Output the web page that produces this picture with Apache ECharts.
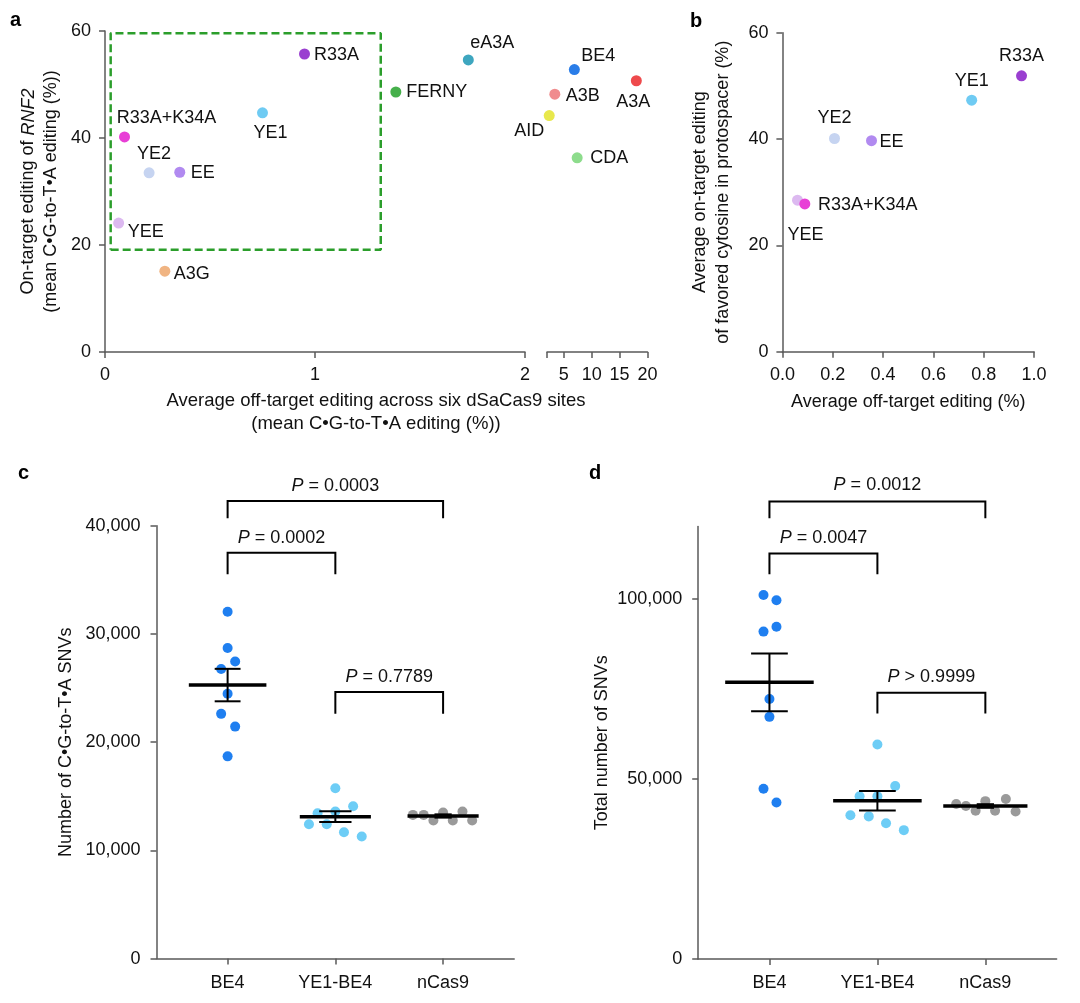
<!DOCTYPE html>
<html><head><meta charset="utf-8">
<script src="https://cdn.jsdelivr.net/npm/echarts@6/dist/echarts.min.js"></script>
<style>html,body{margin:0;padding:0;background:#fff}#c{width:1080px;height:1003px}</style>
</head><body><div id="c"></div>
<script>
// ---------- Panel a data ----------
const namesA = ['R33A','eA3A','FERNY','YE1','R33A+K34A','YE2','EE','YEE','A3G','BE4','A3B','A3A','AID','CDA'];
const offTargetA = [0.95,1.73,1.385,0.75,0.093,0.21,0.356,0.065,0.285,6.9,3.4,18.0,2.4,7.4];
const onTargetA = [55.7,54.6,48.6,44.7,40.2,33.5,33.6,24.1,15.1,52.8,48.2,50.7,44.2,36.3];
const colorsA = ['#9a3fd0','#3ea6bf','#46b04b','#6fcbf3','#e83fd6','#c6d4f1','#b18af0','#dcb9f0','#f0b482','#2a7de8','#f08c8e','#ee4a4c','#e8e84c','#8ddc8c'];
const boxX = [0.027, 1.313];
const boxY = [19.1, 59.6];
const xTicksA1 = [0, 1, 2];
const xTicksA2 = [5, 10, 15, 20];
// ---------- Panel b data ----------
const namesB = ['R33A','YE1','YE2','EE','YEE','R33A+K34A'];
const offTargetB = [0.95,0.752,0.207,0.354,0.06,0.089];
const onTargetB = [51.9,47.3,40.1,39.7,28.5,27.8];
const colorsB = ['#9a3fd0','#6fcbf3','#c6d4f1','#b18af0','#dcb9f0','#e83fd6'];
// ---------- Panel c / d data ----------
const groups = ['BE4','YE1-BE4','nCas9'];
const cBE4 = [32060,28700,27460,26760,24480,22620,21440,18690];
const cBE4x = [1.0,1.0,1.07,0.94,1.0,0.94,1.07,1.0];
const cYE1 = [15740,14080,13440,13600,12410,12410,11680,11290];
const cYE1x = [2.0,2.165,1.835,2.0,1.755,1.92,2.08,2.245];
const cCas = [13280,13280,12760,13500,12760,13600,12760];
const cCasx = [2.72,2.82,2.91,3.0,3.09,3.18,3.27];
const meanC = [25280,13120,13180];
const semC = [1500,500,150];
const dBE4 = [101000,99560,90840,92170,72160,67180,47230,43410];
const dBE4x = [0.945,1.065,0.945,1.065,1.0,1.0,0.945,1.065];
const dYE1 = [59520,48010,45130,45130,39870,39570,37660,35750];
const dYE1x = [2.0,2.165,1.835,2.0,1.75,1.92,2.08,2.245];
const dCas = [43030,42450,41120,43800,41120,44380,40920];
const dCasx = [2.73,2.82,2.91,3.0,3.09,3.19,3.28];
const meanD = [76760,43890,42450];
const semD = [8000,2700,500];
// brackets: from, to, top, foot, label y
const brFrom = [1,1,2];
const brTo = [3,2,3];
const brTopC = [42300,37500,24640];
const brFootC = [40700,35520,22620];
const brLabelC = [43680,38880,25980];
const pTextC = ['= 0.0003','= 0.0002','= 0.7789'];
const brTopD = [126950,112480,73880];
const brFootD = [122270,106750,68120];
const brLabelD = [131380,116800,78190];
const pTextD = ['= 0.0012','= 0.0047','> 0.9999'];

// ---------- styles ----------
const FONT = "'Liberation Sans', Arial, Helvetica, sans-serif";
const TXT = '#111';
const AX = '#5a5a5a';
const labelOffA = {'R33A':[32,1],'eA3A':[24,-17],'FERNY':[41,0],'YE1':[8,20],'R33A+K34A':[42,-19],'YE2':[5,-19],'EE':[23,1],'YEE':[27,9],'A3G':[27,3],'BE4':[24,-13],'A3B':[28,2],'A3A':[-3,21],'AID':[-20,16],'CDA':[32,0]};
const labelOffB = {'R33A':[0,-20],'YE1':[0,-19],'YE2':[0,-20],'EE':[20,1],'YEE':[8,35],'R33A+K34A':[63,1]};

function axisBase(extra){
  return Object.assign({
    axisLine:{show:true,lineStyle:{color:AX,width:1.5}},
    axisTick:{show:true,length:6,lineStyle:{color:AX,width:1.5}},
    axisLabel:{color:TXT,fontSize:18,fontFamily:FONT,margin:14},
    splitLine:{show:false},
    nameTextStyle:{color:TXT,fontSize:18,fontFamily:FONT}
  }, extra);
}

function ptItems(names, xs, ys, colors, offs, filter){
  const out = [];
  names.forEach((n,i)=>{
    if(filter && !filter(xs[i])) return;
    out.push({name:n, value:[xs[i],ys[i]], itemStyle:{color:colors[i],opacity:1},
      label:{show:true,position:'inside',offset:offs[n],formatter:n,color:TXT,fontSize:18,fontFamily:FONT}});
  });
  return out;
}

function dots(xs, ys){ return xs.map((x,i)=>[x,ys[i]]); }

function meanSem(halfW, capW){
  return function(params, api){
    const i = params.dataIndex;
    const x = api.value(0), m = api.value(1), s = api.value(2);
    const L = (a,b,w)=>({type:'line',shape:{x1:a[0],y1:a[1],x2:b[0],y2:b[1]},style:{stroke:'#000',lineWidth:w}});
    return {type:'group',children:[
      L(api.coord([x,m-s]),api.coord([x,m+s]),2),
      L(api.coord([x-capW[i],m+s]),api.coord([x+capW[i],m+s]),2),
      L(api.coord([x-capW[i],m-s]),api.coord([x+capW[i],m-s]),2),
      L(api.coord([x-halfW[i],m]),api.coord([x+halfW[i],m]),3.5)
    ]};
  };
}

function bracket(texts){
  return function(params, api){
    const i = params.dataIndex;
    const f=api.value(0), t=api.value(1), top=api.value(2), foot=api.value(3), ly=api.value(4);
    const pts=[api.coord([f,foot]),api.coord([f,top]),api.coord([t,top]),api.coord([t,foot])];
    const l=api.coord([(f+t)/2,ly]);
    return {type:'group',children:[
      {type:'polyline',shape:{points:pts},style:{stroke:'#000',lineWidth:2,fill:null}},
      {type:'text',x:l[0],y:l[1],style:{text:'{i|P} '+texts[i],fill:TXT,fontSize:18,fontFamily:FONT,align:'center',verticalAlign:'middle',
        rich:{i:{fontStyle:'italic',fontSize:18,fontFamily:FONT,fill:TXT}}}}
    ]};
  };
}

const fmtComma = v => Number(v).toLocaleString('en-US');
const dotStyle = c => ({color:c,opacity:1});

const option = {
  animation:false,
  backgroundColor:'#fff',
  grid:[
    {left:105, top:31, width:420, height:321},
    {left:547, top:31, width:100.5, height:321},
    {left:782.4, top:32.7, width:251.7, height:319},
    {left:156.5, top:525.8, width:357.7, height:432.8},
    {left:698.2, top:526.5, width:358.4, height:432.5}
  ],
  xAxis:[
    axisBase({gridIndex:0,type:'value',min:0,max:2,interval:1}),
    axisBase({gridIndex:1,type:'value',min:2,max:20,
      axisTick:{show:true,length:6,lineStyle:{color:AX,width:1.5},customValues:[2].concat(xTicksA2)},
      axisLabel:{color:TXT,fontSize:18,fontFamily:FONT,margin:14,customValues:xTicksA2}}),
    axisBase({gridIndex:2,type:'value',min:0,max:1,interval:0.2,name:'Average off-target editing (%)',nameLocation:'middle',nameGap:41,
      axisLabel:{color:TXT,fontSize:18,fontFamily:FONT,margin:14,formatter:v=>v.toFixed(1)}}),
    axisBase({gridIndex:3,type:'value',min:0.34,max:3.66,
      axisTick:{show:true,length:6,lineStyle:{color:AX,width:1.5},customValues:[1,2,3]},
      axisLabel:{color:TXT,fontSize:18,fontFamily:FONT,margin:15,customValues:[1,2,3],formatter:v=>groups[Math.round(v)-1]}}),
    axisBase({gridIndex:4,type:'value',min:0.34,max:3.66,
      axisTick:{show:true,length:6,lineStyle:{color:AX,width:1.5},customValues:[1,2,3]},
      axisLabel:{color:TXT,fontSize:18,fontFamily:FONT,margin:15,customValues:[1,2,3],formatter:v=>groups[Math.round(v)-1]}})
  ],
  yAxis:[
    axisBase({gridIndex:0,type:'value',min:0,max:60,interval:20,
      name:'On-target editing of {i|RNF2}\n(mean C•G-to-T•A editing (%))',nameLocation:'middle',nameGap:42,
      nameTextStyle:{color:TXT,fontSize:18,fontFamily:FONT,lineHeight:23,rich:{i:{fontStyle:'italic',fontSize:18,fontFamily:FONT,color:TXT,lineHeight:23}}}}),
    {gridIndex:1,type:'value',min:0,max:60,show:false},
    axisBase({gridIndex:2,type:'value',min:0,max:60,interval:20,
      name:'Average on-target editing\nof favored cytosine in protospacer (%)',nameLocation:'middle',nameGap:48,
      nameTextStyle:{color:TXT,fontSize:18,fontFamily:FONT,lineHeight:23}}),
    axisBase({gridIndex:3,type:'value',min:0,max:40000,interval:10000,
      name:'Number of C•G-to-T•A SNVs',nameLocation:'middle',nameGap:81,
      axisLabel:{color:TXT,fontSize:18,fontFamily:FONT,margin:16,formatter:fmtComma}}),
    axisBase({gridIndex:4,type:'value',min:0,max:120000,
      name:'Total number of SNVs',nameLocation:'middle',nameGap:87,
      axisTick:{show:true,length:6,lineStyle:{color:AX,width:1.5},customValues:[0,50000,100000]},
      axisLabel:{color:TXT,fontSize:18,fontFamily:FONT,margin:16,customValues:[0,50000,100000],formatter:fmtComma}})
  ],
  series:[
    {type:'line',xAxisIndex:0,yAxisIndex:0,symbol:'none',silent:true,z:1,
      data:[[boxX[0],boxY[0]],[boxX[1],boxY[0]],[boxX[1],boxY[1]],[boxX[0],boxY[1]],[boxX[0],boxY[0]]],
      lineStyle:{color:'#2b9e2b',width:2.5,type:[8,4]}},
    {type:'scatter',xAxisIndex:0,yAxisIndex:0,symbolSize:11,z:3,
      data:ptItems(namesA,offTargetA,onTargetA,colorsA,labelOffA,x=>x<=2)},
    {type:'scatter',xAxisIndex:1,yAxisIndex:1,symbolSize:11,z:3,
      data:ptItems(namesA,offTargetA,onTargetA,colorsA,labelOffA,x=>x>2)},
    {type:'scatter',xAxisIndex:2,yAxisIndex:2,symbolSize:11,z:3,
      data:ptItems(namesB,offTargetB,onTargetB,colorsB,labelOffB)},
    // panel c
    {type:'scatter',xAxisIndex:3,yAxisIndex:3,symbolSize:10,itemStyle:dotStyle('#1f7ff0'),data:dots(cBE4x,cBE4)},
    {type:'scatter',xAxisIndex:3,yAxisIndex:3,symbolSize:10,itemStyle:dotStyle('#6dcdf6'),data:dots(cYE1x,cYE1)},
    {type:'scatter',xAxisIndex:3,yAxisIndex:3,symbolSize:10,itemStyle:dotStyle('#9a9a9a'),data:dots(cCasx,cCas)},
    {type:'custom',xAxisIndex:3,yAxisIndex:3,z:5,renderItem:meanSem([0.36,0.33,0.33],[0.12,0.15,0.08]),
      data:groups.map((g,i)=>[i+1,meanC[i],semC[i]])},
    {type:'custom',xAxisIndex:3,yAxisIndex:3,z:5,clip:false,renderItem:bracket(pTextC),
      data:brFrom.map((f,i)=>[f,brTo[i],brTopC[i],brFootC[i],brLabelC[i]])},
    // panel d
    {type:'scatter',xAxisIndex:4,yAxisIndex:4,symbolSize:10,itemStyle:dotStyle('#1f7ff0'),data:dots(dBE4x,dBE4)},
    {type:'scatter',xAxisIndex:4,yAxisIndex:4,symbolSize:10,itemStyle:dotStyle('#6dcdf6'),data:dots(dYE1x,dYE1)},
    {type:'scatter',xAxisIndex:4,yAxisIndex:4,symbolSize:10,itemStyle:dotStyle('#9a9a9a'),data:dots(dCasx,dCas)},
    {type:'custom',xAxisIndex:4,yAxisIndex:4,z:5,renderItem:meanSem([0.41,0.41,0.39],[0.17,0.17,0.08]),
      data:groups.map((g,i)=>[i+1,meanD[i],semD[i]])},
    {type:'custom',xAxisIndex:4,yAxisIndex:4,z:5,clip:false,renderItem:bracket(pTextD),
      data:brFrom.map((f,i)=>[f,brTo[i],brTopD[i],brFootD[i],brLabelD[i]])}
  ],
  graphic:[
    {type:'text',left:10,top:10,style:{text:'a',font:'bold 20px '+FONT,fill:'#000'}},
    {type:'text',left:690,top:11,style:{text:'b',font:'bold 20px '+FONT,fill:'#000'}},
    {type:'text',left:18,top:463,style:{text:'c',font:'bold 20px '+FONT,fill:'#000'}},
    {type:'text',left:589,top:463,style:{text:'d',font:'bold 20px '+FONT,fill:'#000'}},
    {type:'text',x:376,y:390,style:{text:'Average off-target editing across six dSaCas9 sites\n(mean C•G-to-T•A editing (%))',
      fill:TXT,fontSize:18.5,fontFamily:FONT,align:'center',verticalAlign:'top',lineHeight:22.5}}
  ]
};
const chart = echarts.init(document.getElementById('c'));
chart.setOption(option);
</script>
</body></html>
